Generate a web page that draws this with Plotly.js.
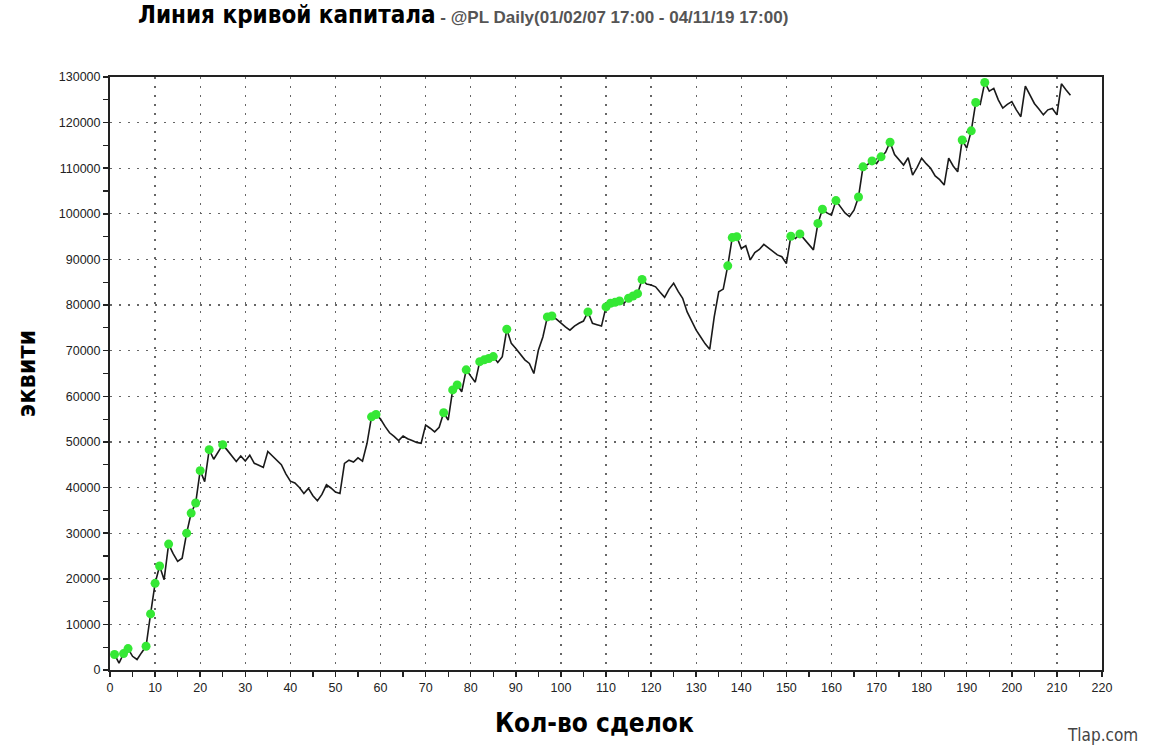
<!DOCTYPE html>
<html>
<head>
<meta charset="utf-8">
<script src="https://cdn.plot.ly/plotly-3.0.1.min.js"></script>
<style>html,body{margin:0;padding:0;background:#fff;}#chart{width:1173px;height:750px;}</style>
</head>
<body>
<div id="chart"></div>
<script>
// Trade number (1..213)
const trades = [];
for (let i = 1; i <= 213; i++) trades.push(i);

// Equity after each trade
const equity = [
  3400, 1500, 3600, 4700, 3000, 2300, 3800, 5200, 12300, 19000,      // 1-10
  22800, 19800, 27600, 25500, 23800, 24500, 30000, 34400, 36600, 43700, // 11-20
  41300, 48300, 46200, 47800, 49400, 48200, 47000, 45700, 46900, 45800, // 21-30
  47100, 45300, 44900, 44400, 47900, 47000, 46000, 45000, 43000, 41400, // 31-40
  41000, 40000, 38700, 39800, 38200, 37100, 38500, 40600, 39900, 39000, // 41-50
  38700, 45300, 46000, 45600, 46500, 45800, 49700, 55500, 56000, 55000, // 51-60
  53400, 52000, 51200, 50300, 51300, 50700, 50300, 49900, 49700, 53700, // 61-70
  53000, 52200, 53200, 56400, 54800, 61400, 62500, 61000, 65800, 64300, // 71-80
  63100, 67600, 68000, 68300, 68700, 67400, 68700, 74700, 71600, 70500, // 81-90
  69300, 68000, 67200, 65000, 70100, 73000, 77400, 77600, 76900, 76000, // 91-100
  75200, 74500, 75400, 76000, 76500, 78500, 76000, 75700, 75400, 79600, // 101-110
  80400, 80600, 80900, 80400, 81500, 82000, 82500, 85600, 84600, 84400, // 111-120
  84000, 82800, 81700, 83500, 84800, 83000, 81500, 78500, 76500, 74500, // 121-130
  73000, 71500, 70300, 77400, 82900, 83500, 88600, 94800, 95000, 92400, // 131-140
  93000, 89900, 91500, 92200, 93300, 92500, 91700, 91000, 90600, 89100, // 141-150
  95100, 94600, 95600, 94500, 93300, 92100, 97900, 101000, 100200, 99700, // 151-160
  102900, 101500, 100200, 99400, 100800, 103700, 110300, 110800, 111600, 111000, // 161-170
  112500, 113500, 115700, 113000, 111800, 110700, 112300, 108500, 110200, 112200, // 171-180
  111000, 110000, 108300, 107500, 106300, 112200, 110500, 109200, 116200, 114400, // 181-190
  118200, 124400, 124000, 128800, 126900, 127500, 125000, 123200, 124000, 124600, // 191-200
  122800, 121300, 128000, 126000, 124200, 123000, 121700, 122800, 123100, 121700, // 201-210
  128500, 127200, 126000                                                   // 211-213
];

// Trades marked as new equity highs (green dots)
const highTrades = [1, 3, 4, 8, 9, 10, 11, 13, 17, 18, 19, 20, 22, 25, 58, 59, 74, 76, 77, 79,
  82, 83, 84, 85, 88, 97, 98, 106, 110, 111, 112, 113, 115, 116, 117, 118, 137, 138, 139,
  151, 153, 157, 158, 161, 166, 167, 169, 171, 173, 189, 191, 192, 194];
const highEquity = highTrades.map(t => equity[t - 1]);

const xTicks = [];
for (let v = 0; v <= 220; v += 10) xTicks.push(v);
const yTicks = [];
for (let v = 0; v <= 130000; v += 10000) yTicks.push(v);

const titleMain = 'Линия кривой капитала';
const titleSub = ' - @PL Daily(01/02/07 17:00 - 04/11/19 17:00)';
const xTitle = 'Кол-во сделок';
const yTitle = 'эквити';
const watermark = 'Tlap.com';

const handFont = '"DejaVu Sans Condensed", "DejaVu Sans", sans-serif';

const traces = [
  {
    x: trades, y: equity, type: 'scatter', mode: 'lines',
    line: {color: '#1a1a1a', width: 1.6},
    hoverinfo: 'x+y', showlegend: false
  },
  {
    x: highTrades, y: highEquity, type: 'scatter', mode: 'markers',
    marker: {color: '#35e835', size: 9, line: {width: 0}},
    hoverinfo: 'x+y', showlegend: false
  }
];

const axisCommon = {
  showline: true, linecolor: '#222', linewidth: 2, mirror: true,
  showgrid: true, gridcolor: '#666', gridwidth: 1.2, griddash: '2px,7px',
  zeroline: false, ticks: 'outside', ticklen: 5, tickcolor: '#222', tickwidth: 1.5,
  tickfont: {family: '"Liberation Sans", Arial, sans-serif', size: 12.5, color: '#222'}
};

const layout = {
  width: 1173, height: 750,
  paper_bgcolor: '#fff', plot_bgcolor: '#fff',
  margin: {l: 110, r: 71, t: 77, b: 80},
  title: {
    text: '<b>' + titleMain + '</b><span style="font-size:17px;font-family:Liberation Sans, Arial;color:#555"><b>' + titleSub + '</b></span>',
    font: {family: handFont, size: 24, color: '#000'},
    xref: 'container', yref: 'container', x: 138 / 1173, xanchor: 'left', y: 1 - 15 / 750, yanchor: 'middle'
  },
  xaxis: Object.assign({}, axisCommon, {
    range: [0, 220], tickvals: xTicks, ticktext: xTicks.map(String),
    minor: {dtick: 5, ticks: 'outside', ticklen: 5, tickcolor: '#222', tickwidth: 1.2, showgrid: false}
  }),
  yaxis: Object.assign({}, axisCommon, {
    range: [0, 130000], tickvals: yTicks, ticktext: yTicks.map(String),
    minor: {dtick: 5000, ticks: 'outside', ticklen: 5, tickcolor: '#222', tickwidth: 1.2, showgrid: false},
    title: {text: '<b>' + yTitle + '</b>', font: {family: handFont, size: 25, color: '#000'}, standoff: 16}
  }),
  annotations: [
    {
      text: '<b>' + xTitle + '</b>', xref: 'paper', yref: 'paper',
      x: (594 - 110) / 992, y: (670 - 723) / 593, xanchor: 'center', yanchor: 'middle',
      showarrow: false, font: {family: handFont, size: 26, color: '#000'}
    },
    {
      text: watermark, xref: 'paper', yref: 'paper',
      x: (1140 - 110) / 992, y: (670 - 735) / 593, xanchor: 'right', yanchor: 'middle',
      showarrow: false, font: {family: handFont, size: 17, color: '#444'}
    }
  ]
};

Plotly.newPlot('chart', traces, layout, {displayModeBar: false, staticPlot: true});
</script>
</body>
</html>
